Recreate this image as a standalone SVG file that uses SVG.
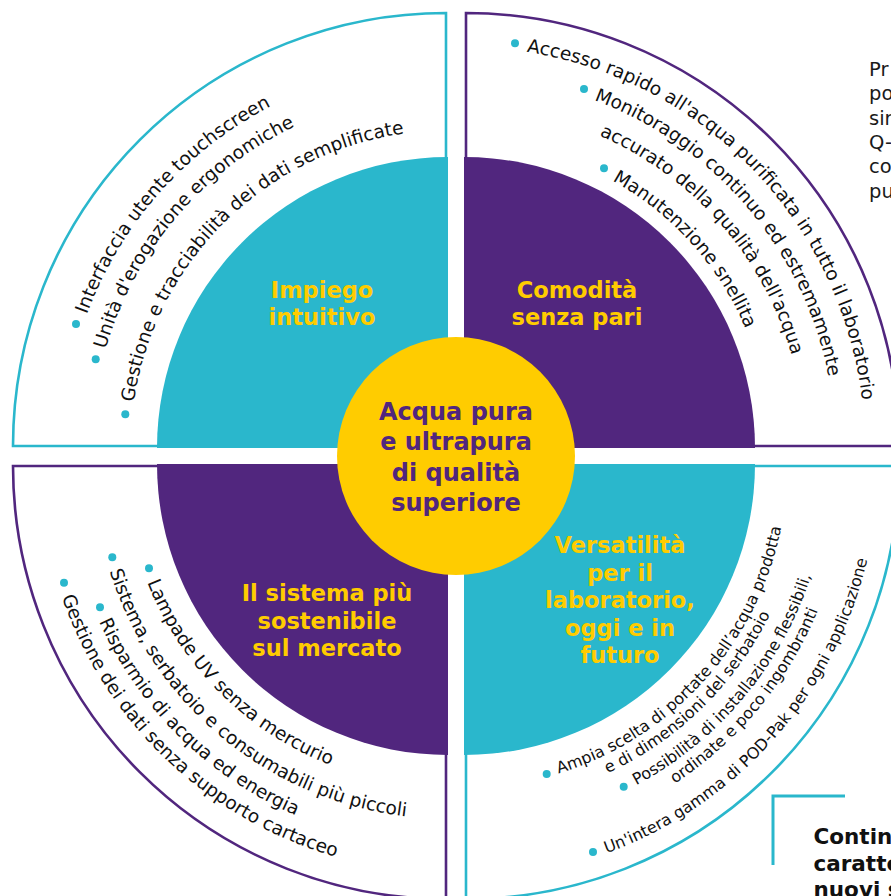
<svg xmlns="http://www.w3.org/2000/svg" width="891" height="896" viewBox="0 0 891 896">
<style>
.cy{fill:#2AB7CC}
.pu{fill:#51267E}
.ocy{fill:#fff;stroke:#2AB7CC;stroke-width:2.6}
.opu{fill:#fff;stroke:#51267E;stroke-width:2.6}
.lbl{font-family:"DejaVu Sans",Verdana,sans-serif;font-weight:bold;font-size:22.5px;fill:#FFCC00;text-anchor:middle}
.ttl{font-family:"DejaVu Sans",Verdana,sans-serif;font-weight:bold;font-size:24px;fill:#51267E;text-anchor:middle}
.it{font-family:"DejaVu Sans",Verdana,sans-serif;font-size:18.5px;fill:#111}
.it2{font-family:"DejaVu Sans",Verdana,sans-serif;font-size:16px;fill:#111}
.bul{fill:#2AB7CC}
.side{font-family:"DejaVu Sans",Verdana,sans-serif;font-size:19.5px;fill:#1a1a1a}
.box{font-family:"DejaVu Sans",Verdana,sans-serif;font-weight:bold;font-size:21.5px;fill:#111}
</style>
<defs>
<path id="tl1" d="M86.9,314.4 A385,385 0 0 1 579.7,86.2" fill="none"/>
<path id="tl2" d="M105.7,349.2 A356.3,356.3 0 0 1 569.9,113.2" fill="none"/>
<path id="tl3" d="M133.8,402.2 A317.5,317.5 0 0 1 503.1,135.3" fill="none"/>
<path id="tr1" d="M526.7,51.9 A401,401 0 0 1 863.5,483" fill="none"/>
<path id="tr2a" d="M594.1,100 A371.5,371.5 0 0 1 834.1,480.4" fill="none"/>
<path id="tr2b" d="M599.2,135.5 A340.5,340.5 0 0 1 803.2,477.7" fill="none"/>
<path id="tr3" d="M612.3,180.5 A305.8,305.8 0 0 1 768.6,474.7" fill="none"/>
<path id="bl1" d="M147.2,582.2 A323.2,323.2 0 0 0 504.1,782.3" fill="none"/>
<path id="bl2" d="M109.6,571 A354.9,354.9 0 0 0 569.4,797.5" fill="none"/>
<path id="bl3" d="M99,621.6 A382.9,382.9 0 0 0 514.5,841.1" fill="none"/>
<path id="bl4" d="M61.9,597 A408.4,408.4 0 0 0 553.7,858.5" fill="none"/>
<path id="br1a" d="M558.6,773.4 A323.5,323.5 0 0 0 782.6,407.8" fill="none"/>
<path id="br1b" d="M607.6,773.3 A341,341 0 0 0 799.8,404.8" fill="none"/>
<path id="br2a" d="M636.3,785.2 A364.5,364.5 0 0 0 823,400.7" fill="none"/>
<path id="br2b" d="M674.8,783.7 A383,383 0 0 0 841.2,397.5" fill="none"/>
<path id="br3" d="M606.5,853.3 A414.5,414.5 0 0 0 872.2,392" fill="none"/>
</defs>
<rect width="891" height="896" fill="#fff"/>

<g id="quadrant-top-left">
<path class="ocy" d="M446,446 L13,446 A433,433 0 0 1 446,13 Z"/>
<path class="cy" d="M448,448 L157,448 A291,291 0 0 1 448,157 Z"/>
<text class="lbl"><tspan x="322" y="298">Impiego</tspan><tspan x="322" y="325">intuitivo</tspan></text>
<circle class="bul" cx="76" cy="324" r="4"/>
<circle class="bul" cx="95.7" cy="359.3" r="4"/>
<circle class="bul" cx="125.3" cy="414.3" r="4"/>
<text class="it"><textPath href="#tl1">Interfaccia utente touchscreen</textPath></text>
<text class="it"><textPath href="#tl2">Unità d'erogazione ergonomiche</textPath></text>
<text class="it"><textPath href="#tl3">Gestione e tracciabilità dei dati semplificate</textPath></text>
</g>

<g id="quadrant-top-right">
<path class="opu" d="M466,446 L466,13 A433,433 0 0 1 899,446 Z"/>
<path class="pu" d="M464,448 L464,157 A291,291 0 0 1 755,448 Z"/>
<text class="lbl"><tspan x="577" y="298">Comodità</tspan><tspan x="577" y="325">senza pari</tspan></text>
<circle class="bul" cx="515" cy="43.3" r="4"/>
<circle class="bul" cx="584" cy="89" r="4"/>
<circle class="bul" cx="604" cy="168.3" r="4"/>
<text class="it"><textPath href="#tr1">Accesso rapido all'acqua purificata in tutto il laboratorio</textPath></text>
<text class="it"><textPath href="#tr2a">Monitoraggio continuo ed estremamente</textPath></text>
<text class="it"><textPath href="#tr2b">accurato della qualità dell'acqua</textPath></text>
<text class="it"><textPath href="#tr3">Manutenzione snellita</textPath></text>
</g>

<g id="quadrant-bottom-left">
<path class="opu" d="M446,466 L446,899 A433,433 0 0 1 13,466 Z"/>
<path class="pu" d="M448,464 L448,755 A291,291 0 0 1 157,464 Z"/>
<text class="lbl"><tspan x="327" y="601">Il sistema più</tspan><tspan x="327" y="629">sostenibile</tspan><tspan x="327" y="656">sul mercato</tspan></text>
<circle class="bul" cx="149" cy="568.3" r="4"/>
<circle class="bul" cx="112.3" cy="557.3" r="4"/>
<circle class="bul" cx="100" cy="607.3" r="4"/>
<circle class="bul" cx="64" cy="582.7" r="4"/>
<text class="it"><textPath href="#bl1">Lampade UV senza mercurio</textPath></text>
<text class="it"><textPath href="#bl2">Sistema, serbatoio e consumabili più piccoli</textPath></text>
<text class="it"><textPath href="#bl3">Risparmio di acqua ed energia</textPath></text>
<text class="it"><textPath href="#bl4">Gestione dei dati senza supporto cartaceo</textPath></text>
</g>

<g id="quadrant-bottom-right">
<path class="ocy" d="M466,466 L899,466 A433,433 0 0 1 466,899 Z"/>
<path class="cy" d="M464,464 L755,464 A291,291 0 0 1 464,755 Z"/>
<text class="lbl"><tspan x="620" y="553">Versatilità</tspan><tspan x="620" y="580.5">per il</tspan><tspan x="620" y="608">laboratorio,</tspan><tspan x="620" y="635.5">oggi e in</tspan><tspan x="620" y="663">futuro</tspan></text>
<circle class="bul" cx="546.7" cy="774" r="4"/>
<circle class="bul" cx="623.7" cy="786.7" r="4"/>
<circle class="bul" cx="593" cy="852" r="4"/>
<text class="it2"><textPath href="#br1a">Ampia scelta di portate dell’acqua prodotta</textPath></text>
<text class="it2"><textPath href="#br1b">e di dimensioni del serbatoio</textPath></text>
<text class="it2"><textPath href="#br2a">Possibilità di installazione flessibili,</textPath></text>
<text class="it2"><textPath href="#br2b">ordinate e poco ingombranti</textPath></text>
<text class="it2"><textPath href="#br3">Un'intera gamma di POD-Pak per ogni applicazione</textPath></text>
</g>

<g id="center">
<circle cx="456" cy="456" r="119" fill="#FFCC00"/>
<text class="ttl"><tspan x="456" y="420">Acqua pura</tspan><tspan x="456" y="450">e ultrapura</tspan><tspan x="456" y="481">di qualità</tspan><tspan x="456" y="511">superiore</tspan></text>
</g>

<g id="side-text">
<text class="side"><tspan x="869" y="76">Pr</tspan><tspan x="869" y="100">po</tspan><tspan x="869" y="124.5">sir</tspan><tspan x="869" y="149">Q-</tspan><tspan x="869" y="173">co</tspan><tspan x="869" y="197.5">pu</tspan></text>
</g>

<g id="bottom-box">
<path d="M845,796 H773 V865" fill="none" stroke="#2AB7CC" stroke-width="3"/>
<text class="box"><tspan x="813.5" y="843.5">Contin</tspan><tspan x="813.5" y="870.5">caratte</tspan><tspan x="813.5" y="897">nuovi s</tspan></text>
</g>

<g id="connectors"/>
</svg>
